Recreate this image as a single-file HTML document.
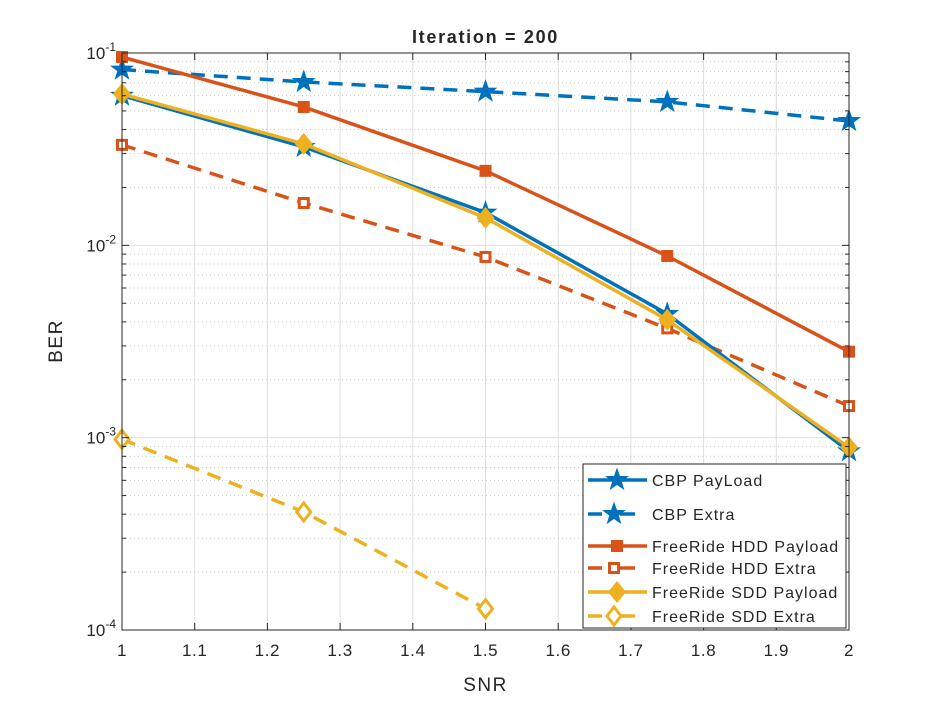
<!DOCTYPE html>
<html><head><meta charset="utf-8"><style>
body{margin:0;background:#fff;}
svg text{font-family:"Liberation Sans",Arial,sans-serif;fill:#262626;}
</style></head><body>
<svg id="chart" width="938" height="706" xmlns="http://www.w3.org/2000/svg">
<rect width="938" height="706" fill="#fff"/>
<g id="grid"></g><g id="series"></g><g id="axes"></g><g id="legend"></g>
</svg>
<script>
const snr=[1,1.25,1.5,1.75,2];
const cbpPayload=[0.060,0.0325,0.0148,0.0044,0.00085];
const cbpExtra=[0.082,0.0707,0.063,0.0557,0.0443];
const hddPayload=[0.0953,0.0524,0.0244,0.0088,0.0028];
const hddExtra=[0.0333,0.0166,0.0087,0.0037,0.00146];
const sddPayload=[0.0612,0.0337,0.0139,0.0041,0.00089];
const sddExtra=[0.00098,0.000411,0.000129];
const xTicks=[1,1.1,1.2,1.3,1.4,1.5,1.6,1.7,1.8,1.9,2];
const yDecades=[-1,-2,-3,-4];
const L=122,R=849,T=53,B=630;
const X=v=>L+(v-1)/(2-1)*(R-L);
const Y=v=>T+(-1-Math.log10(v))/3*(B-T);
const NS="http://www.w3.org/2000/svg";
function mk(tag,attrs,parent){const e=document.createElementNS(NS,tag);for(const k in attrs)e.setAttribute(k,attrs[k]);parent.appendChild(e);return e;}
const grid=document.getElementById('grid'),ser=document.getElementById('series'),ax=document.getElementById('axes'),lg=document.getElementById('legend');
mk('rect',{x:L,y:T,width:R-L,height:B-T,fill:'#fff'},grid);
xTicks.forEach(t=>{const l=mk('line',{x1:X(t),x2:X(t),y1:T,y2:B,stroke:'#dfdfdf','stroke-width':1},grid);
});
for(let d=-4;d<-1;d++){for(let m=2;m<=9;m++){const v=m*Math.pow(10,d);const l=mk('line',{x1:L,x2:R,y1:Y(v),y2:Y(v),stroke:'#c8c8c8','stroke-width':1,'stroke-dasharray':'1,3'},grid);
}}
yDecades.forEach(d=>{const l=mk('line',{x1:L,x2:R,y1:Y(Math.pow(10,d)),y2:Y(Math.pow(10,d)),stroke:'#dfdfdf'},grid);
});
function star(cx,cy,r,col,g){let p=[];for(let i=0;i<10;i++){const a=-Math.PI/2+i*Math.PI/5;const rr=i%2?r*0.4:r;p.push((cx+rr*Math.cos(a)).toFixed(1)+','+(cy+rr*Math.sin(a)).toFixed(1));}
return mk('polygon',{points:p.join(' '),fill:col,stroke:col},g);}
function marker(type,cx,cy,col,g){let e;
if(type==='star')e=star(cx,cy,11,col,g);
else if(type==='sq')e=mk('rect',{x:cx-6,y:cy-6,width:12,height:12,fill:col},g);
else if(type==='sqo')e=mk('rect',{x:cx-4.5,y:cy-4.5,width:9,height:9,fill:'#fff',stroke:col,'stroke-width':3},g);
else if(type==='dia')e=mk('polygon',{points:`${cx},${cy-11} ${cx+9},${cy} ${cx},${cy+11} ${cx-9},${cy}`,fill:col},g);
else e=mk('polygon',{points:`${cx},${cy-9} ${cx+7},${cy} ${cx},${cy+9} ${cx-7},${cy}`,fill:'#fff',stroke:col,'stroke-width':3},g);
}
const S=[
{n:'CBP PayLoad',d:cbpPayload,c:'#0072BD',dash:'',m:'star',id:'cbp-payload'},
{n:'CBP Extra',d:cbpExtra,c:'#0072BD',dash:'14,9',m:'star',id:'cbp-extra'},
{n:'FreeRide HDD Payload',d:hddPayload,c:'#D95319',dash:'',m:'sq',id:'hdd-payload'},
{n:'FreeRide HDD Extra',d:hddExtra,c:'#D95319',dash:'14,9',m:'sqo',id:'hdd-extra'},
{n:'FreeRide SDD Payload',d:sddPayload,c:'#EDB120',dash:'',m:'dia',id:'sdd-payload'},
{n:'FreeRide SDD Extra',d:sddExtra,c:'#EDB120',dash:'14,9',m:'diao',id:'sdd-extra'}];
const order=[1,3,5,0,2,4];
order.forEach(i=>{const s=S[i];const g=mk('g',{},ser);
const pts=s.d.map((v,k)=>X(snr[k])+','+Y(v)).join(' ');
mk('polyline',{points:pts,fill:'none',stroke:s.c,'stroke-width':3.5,'stroke-dasharray':s.dash},g);
s.d.forEach((v,k)=>marker(s.m,X(snr[k]),Y(v),s.c,g));});
mk('rect',{x:L,y:T,width:R-L,height:B-T,fill:'none',stroke:'#262626','stroke-width':1},ax);
xTicks.forEach(t=>{mk('line',{x1:X(t),x2:X(t),y1:B,y2:B-7,stroke:'#262626'},ax);mk('line',{x1:X(t),x2:X(t),y1:T,y2:T+7,stroke:'#262626'},ax);
const tx=mk('text',{x:X(t),y:B+26,'font-size':17,'text-anchor':'middle','letter-spacing':0.6},ax);tx.textContent=String(t);
});
for(let d=-4;d<-1;d++)for(let m=2;m<=9;m++){const y=Y(m*Math.pow(10,d));mk('line',{x1:L,x2:L+4,y1:y,y2:y,stroke:'#262626'},ax);mk('line',{x1:R,x2:R-4,y1:y,y2:y,stroke:'#262626'},ax);}
yDecades.forEach(d=>{const y=Y(Math.pow(10,d));mk('line',{x1:L,x2:L+7,y1:y,y2:y,stroke:'#262626'},ax);mk('line',{x1:R,x2:R-7,y1:y,y2:y,stroke:'#262626'},ax);
const tx=mk('text',{x:L-6,y:y+6,'font-size':17,'text-anchor':'end'},ax);tx.innerHTML='10<tspan dy="-8" font-size="12">'+d+'</tspan>';
});
let t=mk('text',{x:(L+R)/2,y:43,'font-size':18,'font-weight':'bold','text-anchor':'middle',fill:'#000','letter-spacing':1.7},ax);t.textContent='Iteration = 200';

t=mk('text',{x:(L+R)/2,y:691,'font-size':19,'text-anchor':'middle','letter-spacing':1.5},ax);t.textContent='SNR';

t=mk('text',{x:0,y:0,'font-size':19,'text-anchor':'middle','letter-spacing':1.5,transform:'translate(62,341) rotate(-90)'},ax);t.textContent='BER';

const box=mk('rect',{x:583,y:464,width:263,height:164,fill:'#fff',stroke:'#262626'},lg);

const ly=[480,514,546,568,592,616];
S.forEach((s,i)=>{const g=mk('g',{},lg);
const y=ly[i];
if(s.dash){mk('line',{x1:588,x2:602,y1:y,y2:y,stroke:s.c,'stroke-width':3.5},g);mk('line',{x1:620,x2:635,y1:y,y2:y,stroke:s.c,'stroke-width':3.5},g);}
else mk('line',{x1:588,x2:647,y1:y,y2:y,stroke:s.c,'stroke-width':3.5},g);
marker(s.m,s.dash?614:617,y,s.c,g);
const tx=mk('text',{x:652,y:y+6,'font-size':16,'letter-spacing':1},g);tx.textContent=s.n;});
</script>
</body></html>
